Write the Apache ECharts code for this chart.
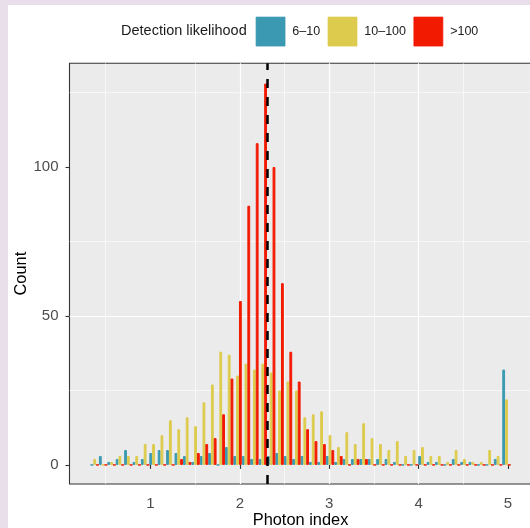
<!DOCTYPE html>
<html>
<head>
<meta charset="utf-8">
<script src="https://cdn.jsdelivr.net/npm/echarts@6/dist/echarts.min.js"></script>
<style>
  html, body { margin: 0; padding: 0; background: #e8dfea; }
  #bg { position: absolute; left: 8px; top: 5px; width: 522px; height: 523px; background: #ffffff; }
  #chart { position: absolute; left: 0; top: 0; width: 530px; height: 528px; }
</style>
</head>
<body>
<div id="bg"></div>
<div id="chart"></div>
<script>
// Histogram bin centres (photon index)
const binCenters = [0.377, 0.471, 0.565, 0.659, 0.753, 0.847, 0.941, 1.035, 1.129, 1.223,
                    1.317, 1.411, 1.505, 1.599, 1.693, 1.787, 1.881, 1.975, 2.069, 2.163,
                    2.257, 2.351, 2.445, 2.539, 2.633, 2.727, 2.821, 2.915, 3.009, 3.103,
                    3.197, 3.291, 3.385, 3.479, 3.573, 3.667, 3.761, 3.855, 3.949, 4.043,
                    4.137, 4.231, 4.325, 4.419, 4.513, 4.607, 4.701, 4.795, 4.889, 4.983];
// Counts per bin for each detection-likelihood class
const count6to10 = [0, 3, 1, 2, 5, 1, 2, 4, 5, 5,
                    4, 3, 1, 3, 4, 0, 6, 3, 3, 2,
                    2, 3, 4, 3, 2, 3, 1, 1, 3, 1,
                    2, 2, 2, 2, 2, 2, 1, 0, 0, 3,
                    1, 1, 0, 2, 1, 1, 0, 0, 2, 32];
const count10to100 = [2, 0, 1, 3, 3, 3, 7, 7, 10, 15,
                      12, 16, 13, 21, 27, 38, 37, 30, 34, 32,
                      34, 31, 25, 28, 25, 16, 17, 18, 10, 6,
                      11, 7, 14, 9, 7, 5, 8, 3, 5, 6,
                      3, 3, 1, 5, 2, 1, 1, 5, 3, 22];
const countOver100 = [0, 0, 0, 0, 0, 0, 0, 0, 0, 0,
                      2, 1, 4, 7, 9, 17, 29, 55, 87, 108,
                      128, 100, 61, 38, 28, 12, 8, 7, 5, 3,
                      0, 2, 2, 0, 0, 0, 0, 0, 0, 0,
                      0, 0, 0, 0, 0, 0, 0, 0, 0, 0];
const seriesNames = ['6–10', '10–100', '>100'];
const seriesColors = ['#3b9ab2', '#ddcb4d', '#f21a00'];
const xTicks = [1, 2, 3, 4, 5];
const yTicks = [0, 50, 100];
const medianIndex = 2.28;

const chart = echarts.init(document.getElementById('chart'), null, { renderer: 'canvas' });

const seriesCounts = [count6to10, count10to100, countOver100];
const series = seriesCounts.map((counts, k) => ({
  name: seriesNames[k],
  type: 'bar',
  data: binCenters.map((x, i) => [x, counts[i]]),
  barGap: '0%',
  barCategoryGap: '0%',
  itemStyle: { color: seriesColors[k], borderColor: seriesColors[k], borderWidth: 1 },
  emphasis: { disabled: true },
  silent: true,
  z: 2
}));
series[2].markLine = {
  silent: true,
  symbol: ['none', 'none'],
  label: { show: false },
  lineStyle: { color: '#000000', width: 2.5, type: [9, 9] },
  emphasis: { disabled: true },
  data: [{ xAxis: medianIndex }],
  z: 5
};

const gridLine = { color: '#ffffff', width: 1.2 };
const minorLine = { color: '#ffffff', width: 0.6 };

chart.setOption({
  animation: false,
  backgroundColor: 'transparent',
  textStyle: { fontFamily: 'Liberation Sans, Arial, sans-serif' },
  title: {
    text: 'Detection likelihood',
    left: 121, top: 23, padding: 0,
    textStyle: { fontSize: 14.5, fontWeight: 'normal', color: '#1a1a1a', fontFamily: 'Liberation Sans, Arial, sans-serif' }
  },
  legend: {
    left: 255.7, top: 16.7, padding: 0,
    itemWidth: 29, itemHeight: 29, itemGap: 7.5,
    icon: 'rect',
    selectedMode: false,
    data: seriesNames,
    itemStyle: { borderWidth: 0.7 },
    textStyle: { fontSize: 12.5, color: '#222222', padding: [0, 0, 0, 2.3], fontFamily: 'Liberation Sans, Arial, sans-serif' }
  },
  grid: {
    left: 69.5, top: 63.3, width: 462.1, height: 420.7,
    show: true, backgroundColor: '#ebebeb', borderColor: '#333333', borderWidth: 1.1,
    containLabel: false,
    outerBoundsMode: 'none'
  },
  xAxis: {
    type: 'value', min: 0.095, max: 5.264, splitNumber: 5,
    axisLine: { show: false },
    axisTick: { show: true, length: 4, lineStyle: { color: '#333333', width: 1.1 }, customValues: xTicks },
    axisLabel: { customValues: xTicks, color: '#4d4d4d', fontSize: 15, margin: 12 },
    splitLine: { show: true, lineStyle: gridLine, showMinLine: false, showMaxLine: false },
    minorTick: { show: false, splitNumber: 2 },
    minorSplitLine: { show: true, lineStyle: minorLine },
    name: 'Photon index', nameLocation: 'middle', nameGap: 28, nameMoveOverlap: false,
    nameTextStyle: { fontSize: 16.4, color: '#000000' }
  },
  yAxis: {
    type: 'value', min: -6.4, max: 134.8, splitNumber: 3,
    axisLine: { show: false },
    axisTick: { show: true, length: 4, lineStyle: { color: '#333333', width: 1.1 }, customValues: yTicks },
    axisLabel: { customValues: yTicks, color: '#4d4d4d', fontSize: 15, margin: 11 },
    splitLine: { show: true, lineStyle: gridLine, showMinLine: false, showMaxLine: false },
    minorTick: { show: false, splitNumber: 2 },
    minorSplitLine: { show: true, lineStyle: minorLine },
    name: 'Count', nameLocation: 'middle', nameGap: 40, nameRotate: 90, nameMoveOverlap: false,
    nameTextStyle: { fontSize: 16.4, color: '#000000' }
  },
  series: series
});
</script>
</body>
</html>
